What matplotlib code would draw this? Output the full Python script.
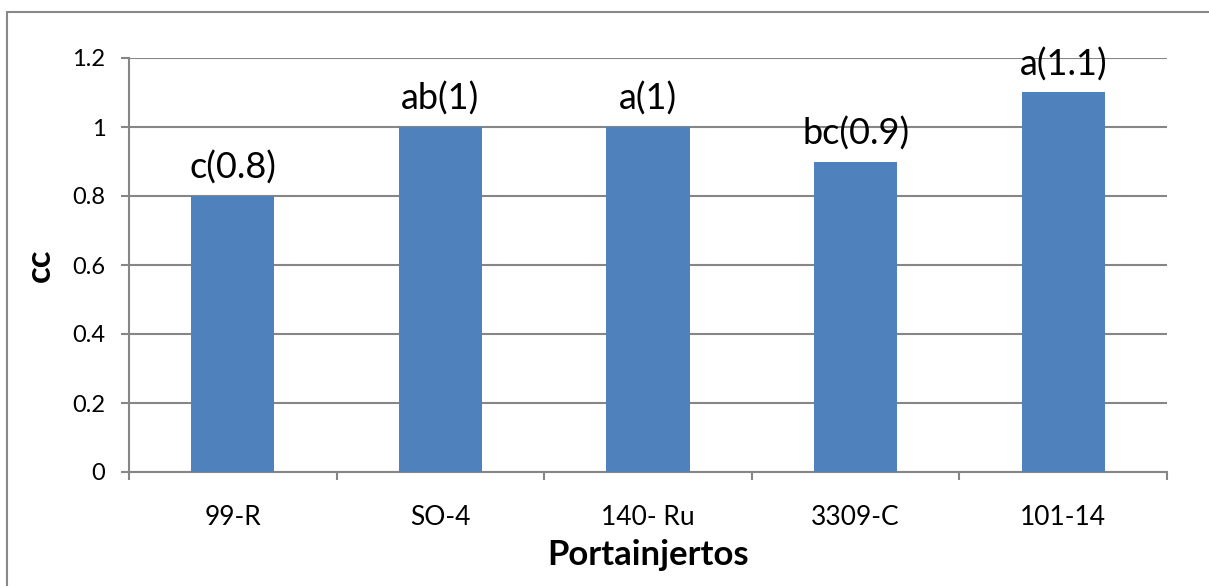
import numpy as np
import matplotlib.pyplot as plt
from matplotlib.patches import Rectangle

plt.rcParams["font.family"] = ["Lato", "DejaVu Sans"]

# Data
portainjertos = ["99-R", "SO-4", "140- Ru", "3309-C", "101-14"]
cc_values = [0.8, 1.0, 1.0, 0.9, 1.1]
letras = ["c", "ab", "a", "bc", "a"]
y_ticks = [0, 0.2, 0.4, 0.6, 0.8, 1, 1.2]
y_tick_labels = ["0", "0.2", "0.4", "0.6", "0.8", "1", "1.2"]

bar_color = "#4F81BD"
grid_color = "#868686"

fig = plt.figure(figsize=(12.09, 5.86), dpi=100)
ax = fig.add_axes([129 / 1209, 1 - 472 / 586, (1167 - 129) / 1209, (472 - 58) / 586])

x = np.arange(len(portainjertos))
ax.bar(x, cc_values, width=0.4, color=bar_color, zorder=3)

# labels above bars
for xi, val, let in zip(x, cc_values, letras):
    ax.annotate(f"{let}({val:g})", (xi, val), xytext=(0, 8), textcoords="offset points",
                ha="center", va="bottom", fontsize=26, color="black", zorder=4)

ax.set_xlim(-0.5, len(portainjertos) - 0.5)
ax.set_ylim(0, 1.2)
ax.set_yticks(y_ticks)
ax.set_yticklabels(y_tick_labels)
ax.yaxis.grid(True, color=grid_color, linewidth=1.5, zorder=0)
ax.set_axisbelow(True)

ax.set_xticks(x)
ax.set_xticklabels(portainjertos)
ax.set_xticks(np.arange(-0.5, len(portainjertos)), minor=True)
ax.tick_params(axis="x", which="major", length=0, pad=24, labelsize=19)
ax.tick_params(axis="x", which="minor", length=6, width=1.5, color=grid_color, direction="out")
ax.tick_params(axis="y", length=6, width=1.5, color=grid_color, pad=11, labelsize=17)

for side in ["top", "right"]:
    ax.spines[side].set_visible(False)
for side in ["left", "bottom"]:
    ax.spines[side].set_color(grid_color)
    ax.spines[side].set_linewidth(1.5)

ax.set_xlabel("Portainjertos", fontsize=25, fontweight="bold", labelpad=6)
ax.set_ylabel("cc", fontsize=25, fontweight="bold", labelpad=12)

# outer chart border (right and bottom edges fall outside the picture)
fig.patches.append(Rectangle((7 / 1209, -0.05), 1.0, 1.05 - 12 / 586,
                             transform=fig.transFigure, fill=False,
                             edgecolor="#888888", linewidth=1.5))

fig.savefig("out.png", dpi=100)
